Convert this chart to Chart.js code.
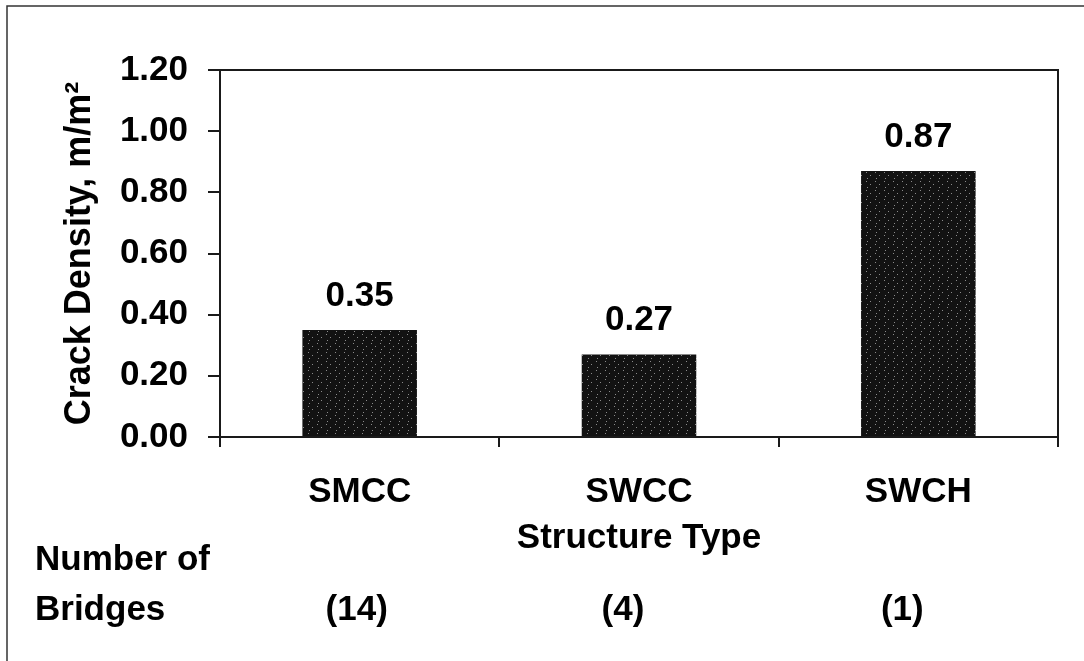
<!DOCTYPE html>
<html>
<head>
<meta charset="utf-8">
<script src="https://cdn.jsdelivr.net/npm/chart.js@4"></script>
<style>
  body { margin: 0; background: #fff; }
  canvas { display: block; }
</style>
</head>
<body>
<canvas id="crackChart" width="1084" height="661"></canvas>
<script>
// du lieu doc tu hinh
const categories = ['SMCC', 'SWCC', 'SWCH'];
const crackDensity = [0.35, 0.27, 0.87];
const bridgeCounts = ['(14)', '(4)', '(1)'];
const yTicks = [0, 0.2, 0.4, 0.6, 0.8, 1.0, 1.2];

const FONT = "'Liberation Sans', Arial, sans-serif";
const INK = '#1a1a1a';

// hoa van cham cho cot (giong ban in)
function speckle() {
    const c = document.createElement('canvas');
    c.width = 9; c.height = 9;
    const g = c.getContext('2d');
    g.fillStyle = '#121212';
    g.fillRect(0, 0, 9, 9);
    g.fillStyle = '#8a8a8a';
    g.fillRect(2, 1, 1, 1);
    g.fillRect(6, 4, 1, 1);
    g.fillRect(3, 7, 1, 1);
    return g.createPattern(c, 'repeat');
}

// khung ngoai, khung tren/phai, nhan gia tri, so cau
const extras = {
    id: 'extras',
    afterDraw(chart) {
        const ctx = chart.ctx;
        const a = chart.chartArea;
        ctx.save();
        // khung ngoai
        ctx.strokeStyle = '#333';
        ctx.lineWidth = 1.5;
        ctx.beginPath();
        ctx.moveTo(7, 670);
        ctx.lineTo(7, 6);
        ctx.lineTo(1090, 6);
        ctx.stroke();
        // khung vung ve
        ctx.strokeStyle = INK;
        ctx.lineWidth = 2;
        ctx.beginPath();
        ctx.moveTo(a.left, a.top);
        ctx.lineTo(a.right, a.top);
        ctx.lineTo(a.right, a.bottom);
        ctx.stroke();

        ctx.fillStyle = '#000';
        ctx.font = 'bold 35px ' + FONT;
        ctx.textAlign = 'center';
        ctx.textBaseline = 'alphabetic';
        const meta = chart.getDatasetMeta(0);
        meta.data.forEach((bar, i) => {
            ctx.fillText(crackDensity[i].toFixed(2), bar.x, bar.y - 24);
        });

        const xs = chart.scales.x;
        const shift = [-3, -16, -16];
        bridgeCounts.forEach((t, i) => {
            ctx.fillText(t, xs.getPixelForValue(i) + shift[i], 620);
        });

        ctx.textAlign = 'left';
        ctx.fillText('Number of', 35, 570);
        ctx.fillText('Bridges', 35, 620);
        ctx.restore();
    }
};

Chart.defaults.font.family = FONT;
Chart.defaults.font.size = 35;
Chart.defaults.font.weight = 'bold';
Chart.defaults.color = '#000';

new Chart(document.getElementById('crackChart'), {
    type: 'bar',
    data: {
        labels: categories,
        datasets: [{
            data: crackDensity,
            backgroundColor: speckle(),
            borderWidth: 0,
            barPercentage: 0.41,
            categoryPercentage: 1
        }]
    },
    options: {
        responsive: false,
        animation: false,
        layout: { padding: { left: 0, top: 70, right: 26, bottom: 0 } },
        plugins: { legend: { display: false }, tooltip: { enabled: false } },
        scales: {
            x: {
                afterFit: s => { s.height = 224; },
                grid: { drawOnChartArea: false, tickLength: 10, color: INK, lineWidth: 2, offset: true },
                border: { color: INK, width: 2 },
                ticks: { padding: 24, color: '#000' },
                title: {
                    display: true,
                    text: 'Structure Type',
                    color: '#000',
                    font: { size: 35, weight: 'bold' },
                    padding: { top: 0, bottom: 102 }
                }
            },
            y: {
                min: 0,
                max: 1.2,
                afterFit: s => { s.width = 220; },
                afterBuildTicks: s => { s.ticks = yTicks.map(v => ({ value: v })); },
                grid: { drawOnChartArea: false, tickLength: 12, color: INK, lineWidth: 2 },
                border: { color: INK, width: 2 },
                ticks: {
                    padding: 20,
                    color: '#000',
                    callback: v => Number(v).toFixed(2)
                },
                title: {
                    display: true,
                    text: 'Crack Density, m/m\u00B2',
                    color: '#000',
                    font: { size: 36, weight: 'bold' },
                    padding: { top: 58, bottom: 0 }
                }
            }
        }
    },
    plugins: [extras]
});
</script>
</body>
</html>
